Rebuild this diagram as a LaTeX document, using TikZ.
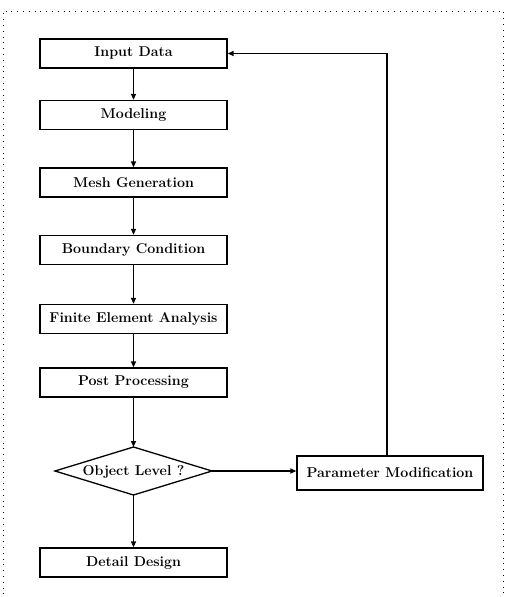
\documentclass[tikz,border=0pt]{standalone}
\usetikzlibrary{arrows.meta}
\begin{document}
\begin{tikzpicture}[x=1pt,y=-1pt,
  lbl/.style={font=\fontsize{14.2}{17}\selectfont\bfseries},
  procbox/.style={draw,line width=1.3pt,minimum width=187pt,minimum height=29pt,inner sep=0pt,lbl},
  conn/.style={line width=1.3pt,-{Triangle[length=6pt,width=5pt]}},
  frameline/.style={line width=0.8pt,dash pattern=on 0.8pt off 5pt}]
\useasboundingbox (0,0) rectangle (508,597);
\draw[frameline] (3,600) -- (3,11) -- (503,11) -- (503,600);
\node[procbox] (in) at (133.5,53.5) {Input Data};
\node[procbox] (mod) at (133.5,115) {Modeling};
\node[procbox] (mesh) at (133.5,182.5) {Mesh Generation};
\node[procbox] (bc) at (133.5,250) {Boundary Condition};
\node[procbox] (fea) at (133.5,319) {Finite Element Analysis};
\node[procbox] (pp) at (133.5,382.5) {Post Processing};
\coordinate (dt) at (133.5,447);
\coordinate (dr) at (212,471);
\coordinate (db) at (133.5,495);
\coordinate (dl) at (55,471);
\draw[line width=1.3pt,line join=miter] (dt) -- (dr) -- (db) -- (dl) -- cycle;
\node[lbl] (obj) at (133.5,472) {Object Level ?};
\node[procbox] (det) at (133.5,562.5) {Detail Design};
\node[procbox,minimum width=186pt,minimum height=34pt] (pm) at (390,473) {Parameter Modification};
\draw[conn] (in) -- (mod);
\draw[conn] (mod) -- (mesh);
\draw[conn] (mesh) -- (bc);
\draw[conn] (bc) -- (fea);
\draw[conn] (fea) -- (pp);
\draw[conn] (pp) -- (dt);
\draw[conn] (db) -- (det);
\draw[conn] (dr) -- (pm.west |- dr);
\draw[conn] (pm.north -| 387,0) |- (in.east);
\end{tikzpicture}
\end{document}
